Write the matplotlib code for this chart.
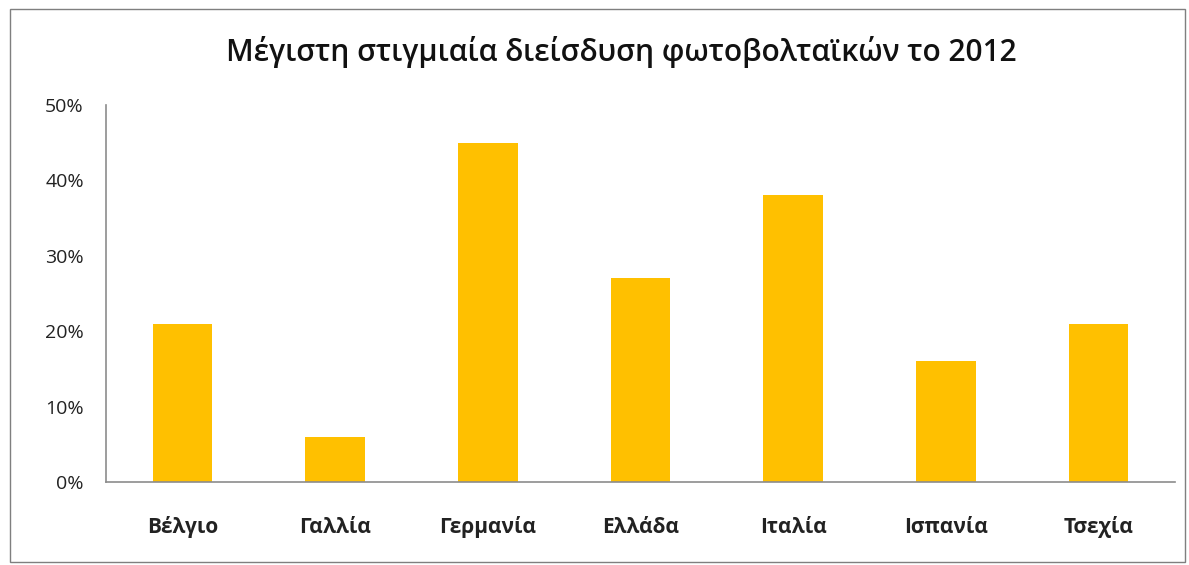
import matplotlib
matplotlib.use("Agg")
import matplotlib.pyplot as plt
from matplotlib.patches import Rectangle
from matplotlib.ticker import PercentFormatter

# data
countries = ["Βέλγιο", "Γαλλία", "Γερμανία", "Ελλάδα", "Ιταλία", "Ισπανία", "Τσεχία"]
penetration = [0.21, 0.06, 0.45, 0.27, 0.38, 0.16, 0.21]
yticks = [0.0, 0.1, 0.2, 0.3, 0.4, 0.5]

plt.rcParams["font.family"] = ["Open Sans", "DejaVu Sans"]

fig = plt.figure(figsize=(11.89, 5.65), dpi=100)
ax = fig.add_axes([106 / 1189, 1 - 482 / 565, 1069 / 1189, 377 / 565])

x = range(len(countries))
ax.bar(x, penetration, width=0.39, color="#FFC000")

ax.set_xlim(-0.5, len(countries) - 0.5)
ax.set_ylim(0, 0.5)
ax.set_yticks(yticks)
ax.yaxis.set_major_formatter(PercentFormatter(1.0, decimals=0))
ax.set_xticks(list(x))
ax.set_xticklabels(countries, fontsize=15, fontweight="bold")
for lbl in ax.get_xticklabels():
    lbl.set_va("baseline")  # line the names up on one baseline like the source
ax.tick_params(axis="both", length=0, colors="#222222")
ax.tick_params(axis="x", pad=37)
ax.tick_params(axis="y", labelsize=14, pad=16)

for side in ["top", "right"]:
    ax.spines[side].set_visible(False)
for side in ["left", "bottom"]:
    ax.spines[side].set_color("#8c8c8c")
    ax.spines[side].set_linewidth(1.2)

fig.text(621 / 1189, 1 - 52 / 565, "Μέγιστη στιγμιαία διείσδυση φωτοβολταϊκών το 2012",
         ha="center", va="center", fontsize=21.5, fontweight="semibold", color="#111111")

# thin outer frame like the chart area in the source
fig.patches.append(Rectangle((10 / 1189, 3 / 565), 1175 / 1189, 553 / 565,
                             transform=fig.transFigure, fill=False,
                             edgecolor="#7f7f7f", linewidth=1))

fig.savefig("out.png", dpi=100)
